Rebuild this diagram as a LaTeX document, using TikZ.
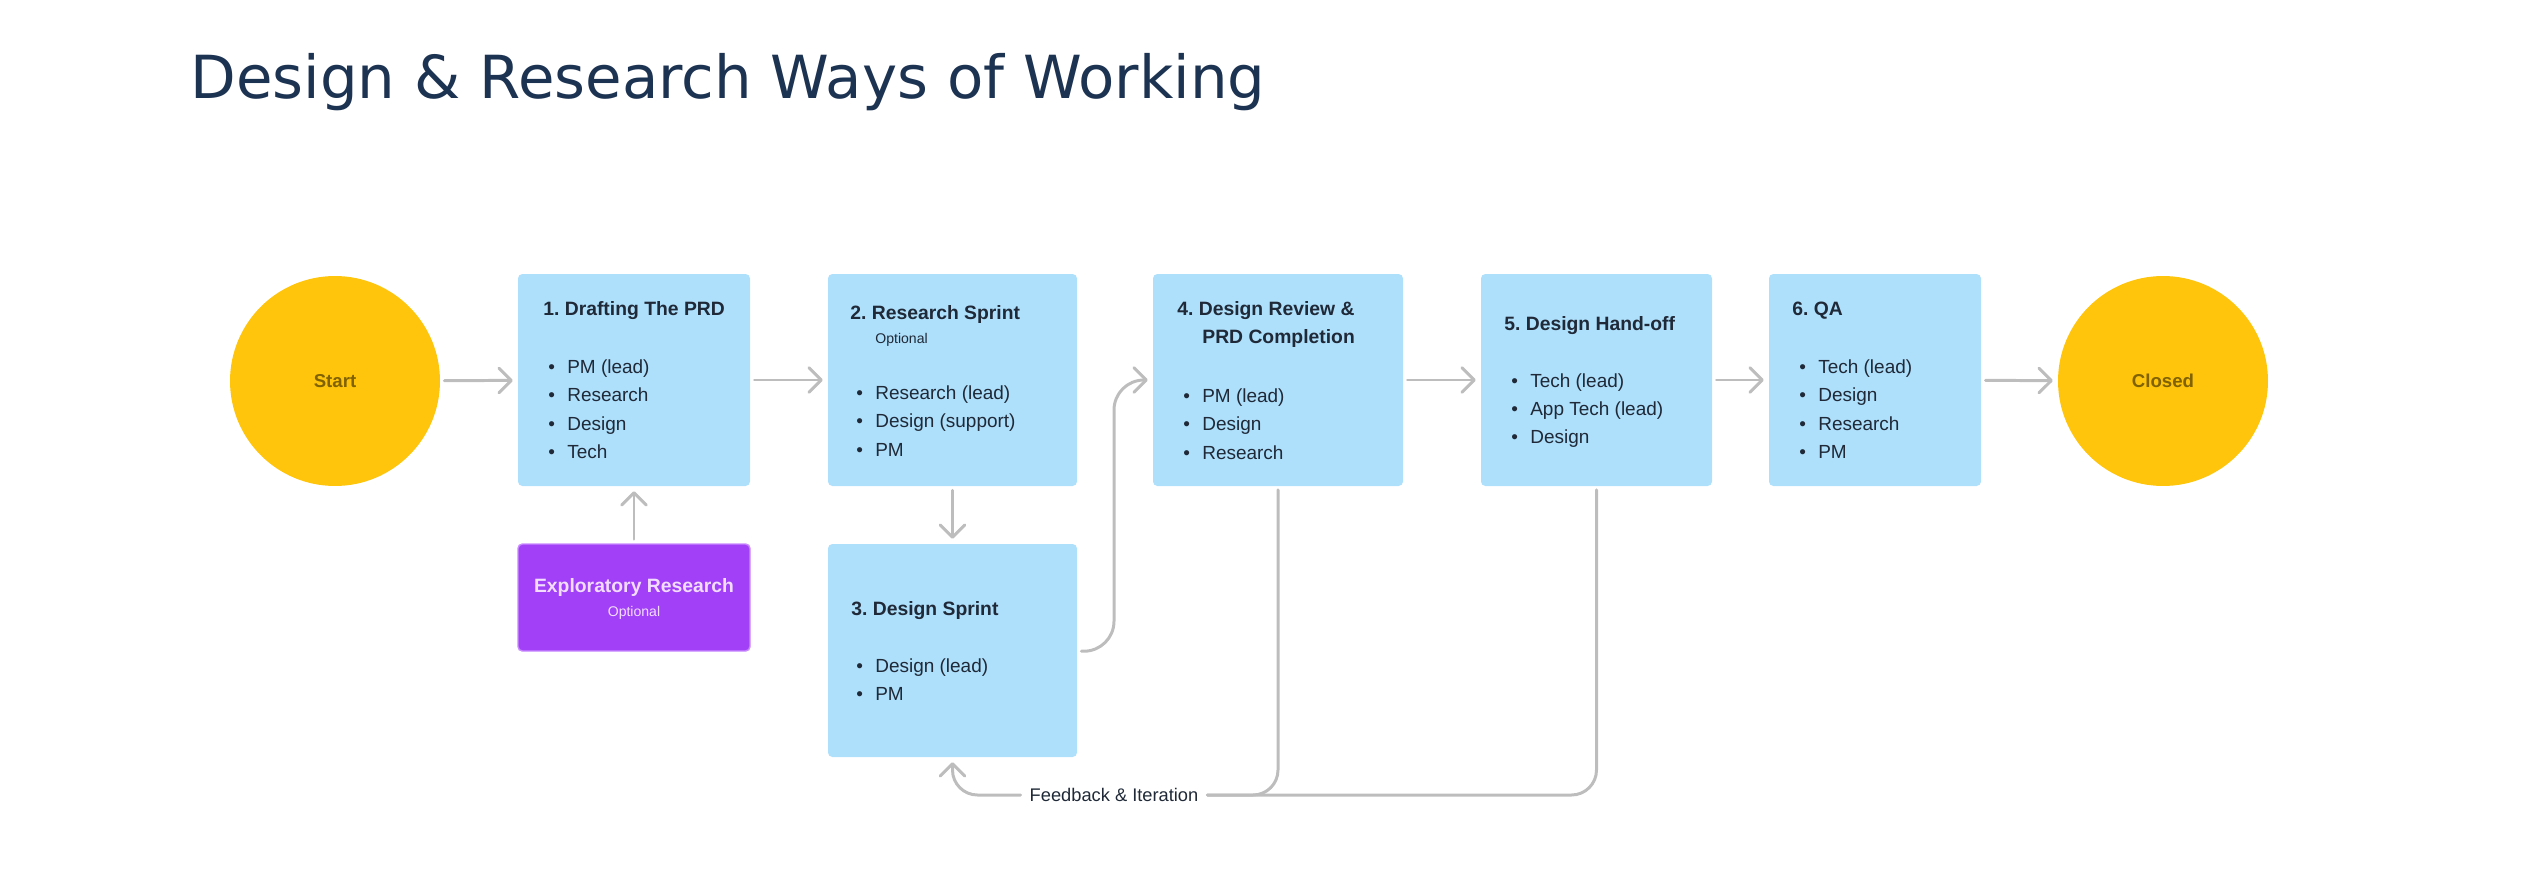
\documentclass[tikz,border=0pt]{standalone}
\usepackage{fontspec}
\setmainfont{Liberation Sans}
\newfontfamily\titlefont{DejaVu Sans}
\usetikzlibrary{arrows.meta}
\definecolor{boxblue}{HTML}{AEDFFB}
\definecolor{sun}{HTML}{FFC50C}
\definecolor{suntext}{HTML}{806200}
\definecolor{violetfill}{HTML}{A140F7}
\definecolor{violetedge}{HTML}{C98BFF}
\definecolor{violettext}{HTML}{F3DDFF}
\definecolor{ink}{HTML}{1F2937}
\definecolor{navy}{HTML}{1D3352}
\definecolor{wire}{HTML}{BDBDBD}
\newcommand\bul{\makebox[10.8pt][l]{\textbullet}}
\frenchspacing
\begin{document}
\begin{tikzpicture}[x=0.02cm,y=-0.02cm,
  stepbox/.style={fill=boxblue,rounded corners=2.5pt,inner sep=0,minimum height=#1*0.02cm},
  stepbox/.default=212,
  endpoint/.style={circle,fill=sun,inner sep=0,minimum size=4.2cm,text=suntext,font=\bfseries\fontsize{10.6pt}{12pt}\selectfont},
  steptitle/.style={anchor=base west,inner sep=0,text=ink,font=\bfseries\fontsize{11pt}{13pt}\selectfont},
  stepnote/.style={anchor=base west,inner sep=0,text=ink,font=\fontsize{8pt}{10pt}\selectfont},
  stepitem/.style={anchor=base west,inner sep=0,text=ink,font=\fontsize{10.8pt}{13pt}\selectfont},
  wireline/.style={draw=wire,line width=1.7pt,line cap=round},
  flow/.style={wireline,-{Straight Barb[length=7pt,width=14pt,round]},shorten <=2.3pt,shorten >=2.8pt}
]
\useasboundingbox (0,0) rectangle (2540,876);

% title
\node[anchor=base west,inner sep=0,text=navy,font=\titlefont\fontsize{33.8pt}{40pt}\selectfont] (title) at (190,98) {Design \& Research Ways of Working};

% circles
\node[endpoint] (start) at (335,381) {Start};
\node[endpoint] (closed) at (2163,381) {Closed};

% boxes
\node[stepbox,minimum width=232*0.02cm] (b1) at (634,380) {};
\node[stepbox,minimum width=249*0.02cm] (b2) at (952.5,380) {};
\node[stepbox=213,minimum width=249*0.02cm] (b3) at (952.5,650.5) {};
\node[stepbox=107,minimum width=232*0.02cm,fill=violetfill,draw=violetedge,line width=0.8pt] (ex) at (634,597.5) {};
\node[stepbox,minimum width=250*0.02cm] (b4) at (1278,380) {};
\node[stepbox,minimum width=231*0.02cm] (b5) at (1596.5,380) {};
\node[stepbox,minimum width=212*0.02cm] (b6) at (1875,380) {};

% box 1
\node[steptitle] (b1t) at (543,315) {1. Drafting The PRD};
\foreach \t [count=\i] in {PM (lead),Research,Design,Tech}
  \node[stepitem] (b1i\i) at (548,{373+28.5*(\i-1)}) {\bul\t};

% box 2
\node[steptitle] (b2t) at (850,319) {2. Research Sprint};
\node[stepnote] (b2n) at (875,343) {Optional};
\foreach \t [count=\i] in {Research (lead),Design (support),PM}
  \node[stepitem] (b2i\i) at (856,{399+28.5*(\i-1)}) {\bul\t};

% box 3
\node[steptitle] (b3t) at (851,615) {3. Design Sprint};
\foreach \t [count=\i] in {Design (lead),PM}
  \node[stepitem] (b3i\i) at (856,{672+28.5*(\i-1)}) {\bul\t};

% exploratory
\node[anchor=base,inner sep=0,text=violettext,font=\bfseries\fontsize{11pt}{13pt}\selectfont] (ext) at (634,592) {Exploratory Research};
\node[anchor=base,inner sep=0,text=violettext,font=\fontsize{8pt}{10pt}\selectfont] (exn) at (634,616) {Optional};

% box 4
\node[steptitle] (b4t) at (1177,315) {4. Design Review \&};
\node[steptitle] (b4u) at (1202,343) {PRD Completion};
\foreach \t [count=\i] in {PM (lead),Design,Research}
  \node[stepitem] (b4i\i) at (1183,{402+28.5*(\i-1)}) {\bul\t};

% box 5
\node[steptitle] (b5t) at (1504,330) {5. Design Hand-off};
\foreach \t [count=\i] in {Tech (lead),App Tech (lead),Design}
  \node[stepitem] (b5i\i) at (1511,{387+28.2*(\i-1)}) {\bul\t};

% box 6
\node[steptitle] (b6t) at (1792,315) {6. QA};
\foreach \t [count=\i] in {Tech (lead),Design,Research,PM}
  \node[stepitem] (b6i\i) at (1799,{373+28.5*(\i-1)}) {\bul\t};

% feedback label
\node[inner xsep=5pt,inner ysep=2pt,text=ink,font=\fontsize{10.4pt}{12pt}\selectfont] (fb) at (1114,795) {Feedback \& Iteration};

% connectors
\draw[flow] (start) -- (b1);
\draw[flow] (b1) -- (b2);
\draw[flow] (b2) -- (b3);
\draw[flow] (ex) -- (b1);
\draw[flow] (b4) -- (b5);
\draw[flow] (b5) -- (b6);
\draw[flow] (b6) -- (closed);
\coordinate (riser) at (1114,380);
\draw[flow,rounded corners=0.6cm] ([yshift=-0.4pt]b3.east) -| (riser) -- (b4.west);
\draw[wireline,rounded corners=0.5cm,shorten <=2pt] (b5.south) |- (fb.east);
\draw[wireline,rounded corners=0.5cm,shorten <=2pt] (b4.south) |- (fb.east);
\draw[flow,rounded corners=0.5cm,shorten <=0pt] (fb.west) -| (b3.south);
\end{tikzpicture}
\end{document}
